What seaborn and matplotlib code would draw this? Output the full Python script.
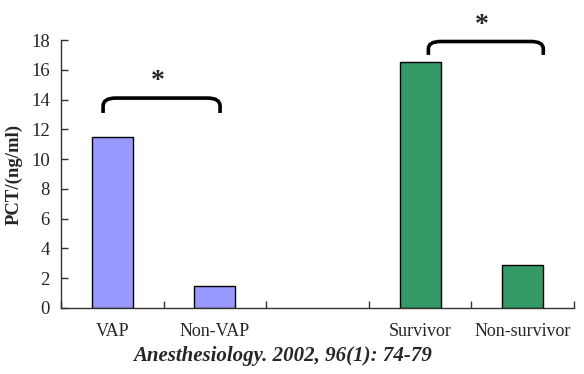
import matplotlib
matplotlib.use("Agg")

import matplotlib.pyplot as plt
import numpy as np
import pandas as pd
import seaborn as sns
from matplotlib.path import Path
from matplotlib.patches import PathPatch

# ── Data ───────────────────────────────────────────────────────────────
categories = ["VAP", "Non-VAP", "", "Survivor", "Non-survivor"]
pct_values = [11.5, 1.5, np.nan, 16.5, 2.9]
bar_colors = ["#9999FF", "#9999FF", "#FFFFFF", "#339966", "#339966"]

# significance brackets: (left x, right x, leg bottom, top)
brackets = [(-0.09, 1.05, 13.1, 14.1), (3.08, 4.2, 17.0, 17.9)]
citation = "Anesthesiology. 2002, 96(1): 74-79"

sns.set_style("white")
plt.rcParams["font.family"] = ["Liberation Serif", "DejaVu Serif"]

df = pd.DataFrame({"group": categories, "pct": pct_values})

fig = plt.figure(figsize=(5.84, 3.74), dpi=100)
ax = fig.add_axes([0.1045, 0.1765, 0.8785, 0.7165])

sns.barplot(
    data=df.dropna(), x="group", y="pct", hue="group", order=categories,
    palette=dict(zip(categories, bar_colors)), width=0.4, saturation=1,
    edgecolor="black", linewidth=1.0, legend=False, ax=ax,
)

ax.set_xlim(-0.5, len(categories) - 0.5)
ax.set_ylim(0, 18)
ax.set_yticks(range(0, 19, 2))
ax.set_xlabel("")
ax.set_ylabel("PCT/(ng/ml)", fontsize=13.5, fontweight="bold", labelpad=6)

for side in ["top", "right"]:
    ax.spines[side].set_visible(False)
for side in ["left", "bottom"]:
    ax.spines[side].set_color("#333333")
    ax.spines[side].set_linewidth(1.0)

ax.set_xticks(np.arange(-0.5, len(categories)), minor=True)
ax.tick_params(axis="x", which="major", bottom=True, length=0, labelsize=13, pad=11)
ax.tick_params(axis="x", which="minor", bottom=True, direction="in", length=5,
               width=1.0, color="#333333")
ax.tick_params(axis="y", left=True, direction="in", length=5, width=1.0,
               labelsize=13.5, color="#333333", pad=8)


def draw_bracket(ax, xl, xr, ybot, ytop):
    dx, dy = 0.12, (ytop - ybot) * 0.9
    verts = [
        (xl, ybot), (xl, ytop - dy * 0.6),
        (xl, ytop), (xl + dx, ytop),
        (xr - dx, ytop),
        (xr, ytop), (xr, ytop - dy * 0.6),
        (xr, ybot),
    ]
    codes = [Path.MOVETO, Path.LINETO, Path.CURVE3, Path.CURVE3, Path.LINETO,
             Path.CURVE3, Path.CURVE3, Path.LINETO]
    ax.add_patch(PathPatch(Path(verts, codes), fill=False, lw=2.6,
                           edgecolor="black", capstyle="butt", clip_on=False))
    ax.text((xl + xr) / 2 - 0.04, ytop + 1.1, "*", ha="center", va="center",
            fontsize=20, fontweight="bold", clip_on=False)


for xl, xr, yb, yt in brackets:
    draw_bracket(ax, xl, xr, yb, yt)

fig.text(0.483, 0.048, citation, ha="center", va="center", fontsize=15,
         fontweight="bold", fontstyle="italic")

fig.savefig("out.png", dpi=100)
